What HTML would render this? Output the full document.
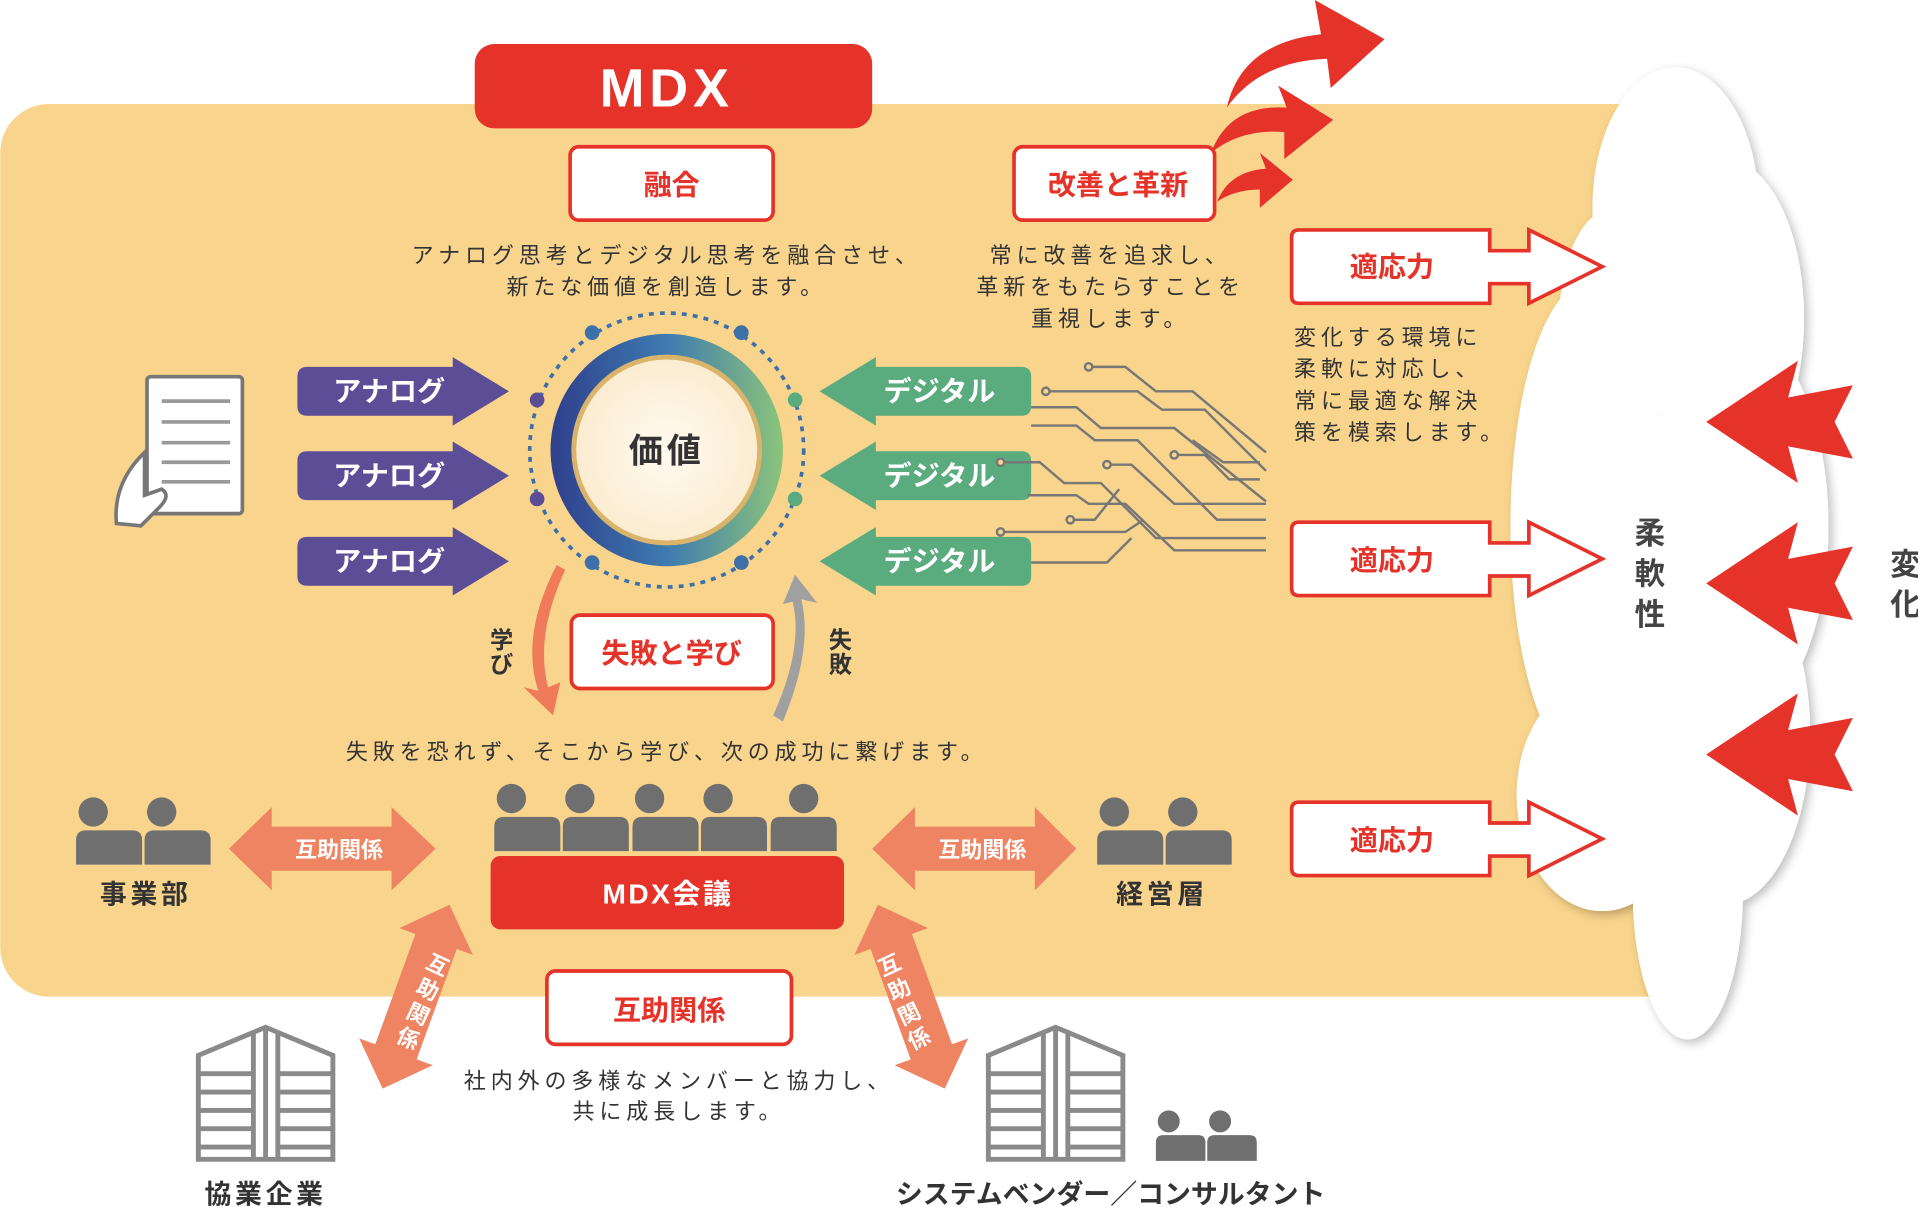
<!DOCTYPE html>
<html><head><meta charset="utf-8"><style>
html,body{margin:0;padding:0;background:#fff;}
svg{display:block;}
text{font-family:"Liberation Sans","Noto Sans CJK JP",sans-serif;}
</style></head><body>
<svg width="1918" height="1207" viewBox="0 0 1568 987" xmlns="http://www.w3.org/2000/svg">
<defs>
<linearGradient id="rg" x1="0" y1="0" x2="1" y2="0">
<stop offset="0" stop-color="#2f3f8c"/><stop offset="0.5" stop-color="#3d7bb0"/><stop offset="1" stop-color="#8cc47a"/>
</linearGradient>
<radialGradient id="cg"><stop offset="0" stop-color="#fffaf0"/><stop offset="1" stop-color="#fbecd0"/></radialGradient>
<filter id="sh" x="-20%" y="-20%" width="140%" height="140%"><feDropShadow dx="3" dy="3" stdDeviation="4" flood-color="#000" flood-opacity="0.25"/></filter>
<g id="p2"><circle cx="14" cy="12" r="12" fill="#6f6f6f"/><circle cx="70" cy="12" r="12" fill="#6f6f6f"/>
<path d="M0 55 V35 Q0 27 8 27 H46 Q54 27 54 35 V55Z" fill="#6f6f6f"/><path d="M56 55 V35 Q56 27 64 27 H102 Q110 27 110 35 V55Z" fill="#6f6f6f"/></g>
<g id="p1"><circle cx="27" cy="12" r="12" fill="#6f6f6f"/><path d="M0 55 V35 Q0 27 8 27 H46 Q54 27 54 35 V55Z" fill="#6f6f6f"/></g>
<g id="bld" fill="none" stroke="#8a8a8a" stroke-width="4">
<path d="M2 110 V25 L57 2 L112 25 V110 Z"/>
<path d="M57 2 V110 M47 6 V110 M67 6 V110"/>
<path d="M2 40 H47 M2 55 H47 M2 70 H47 M2 85 H47 M2 100 H47 M67 40 H112 M67 55 H112 M67 70 H112 M67 85 H112 M67 100 H112"/>
</g>
</defs>

<rect x="0" y="85" width="1400" height="730" rx="40" fill="#f9d48c"/>

<g fill="#fff" filter="url(#sh)">
<ellipse cx="1370" cy="170" rx="68" ry="115"/>
<ellipse cx="1410" cy="260" rx="65" ry="130"/>
<ellipse cx="1420" cy="430" rx="75" ry="160"/>
<ellipse cx="1410" cy="600" rx="70" ry="140"/>
<ellipse cx="1380" cy="730" rx="45" ry="120"/>
<ellipse cx="1310" cy="650" rx="70" ry="95"/>
<ellipse cx="1300" cy="430" rx="65" ry="200"/>
<ellipse cx="1320" cy="260" rx="45" ry="90"/>
</g>
<g fill="#fff">
<ellipse cx="1370" cy="170" rx="68" ry="115"/>
<ellipse cx="1410" cy="260" rx="65" ry="130"/>
<ellipse cx="1420" cy="430" rx="75" ry="160"/>
<ellipse cx="1410" cy="600" rx="70" ry="140"/>
<ellipse cx="1380" cy="730" rx="45" ry="120"/>
<ellipse cx="1310" cy="650" rx="70" ry="95"/>
<ellipse cx="1300" cy="430" rx="65" ry="200"/>
<ellipse cx="1320" cy="260" rx="45" ry="90"/>
</g>
<g font-size="25" font-weight="bold" fill="#444" text-anchor="middle">
<text x="1349" y="445">柔</text><text x="1349" y="478">軟</text><text x="1349" y="511">性</text>
<text x="1558" y="470">変</text><text x="1558" y="503">化</text>
</g>

<g fill="#e6332a">
<path d="M1395 345 L1470 295 L1462 325 L1515 315 L1500 345 L1515 375 L1462 365 L1470 395 Z"/>
<path d="M1395 477 L1470 427 L1462 457 L1515 447 L1500 477 L1515 507 L1462 497 L1470 527 Z"/>
<path d="M1395 617 L1470 567 L1462 597 L1515 587 L1500 617 L1515 647 L1462 637 L1470 667 Z"/>
</g>

<g fill="#e6332a">
<path d="M1003 88 Q1015 35 1080 28 L1075 0 L1132 32 L1088 72 L1085 48 Q1030 50 1003 88Z"/>
<path d="M990 125 Q1005 85 1052 88 L1045 70 L1090 98 L1050 130 L1050 108 Q1015 105 990 125Z"/>
<path d="M995 165 Q1005 140 1035 138 L1030 125 L1057 147 L1030 170 L1030 155 Q1010 155 995 165Z"/>
</g>

<rect x="388" y="36" width="325" height="69" rx="16" fill="#e6332a"/>
<text x="545" y="87" font-size="44" font-weight="bold" fill="#fff" text-anchor="middle" letter-spacing="4">MDX</text>

<g fill="#fff" stroke="#e6332a" stroke-width="3">
<rect x="466" y="120" width="166" height="60" rx="7"/>
<rect x="829" y="120" width="164" height="60" rx="7"/>
<rect x="467" y="503" width="165" height="60" rx="7"/>
<rect x="447" y="794" width="200" height="60" rx="7"/>
<path d="M1062 188 H1218 V205 H1250 V188 L1310 218 L1250 248 V232 H1218 V248 H1062 Q1056 248 1056 242 V194 Q1056 188 1062 188Z"/>
<path d="M1062 427 H1218 V444 H1250 V427 L1310 457 L1250 487 V471 H1218 V487 H1062 Q1056 487 1056 481 V433 Q1056 427 1062 427Z"/>
<path d="M1062 656 H1218 V673 H1250 V656 L1310 686 L1250 716 V700 H1218 V716 H1062 Q1056 716 1056 710 V662 Q1056 656 1062 656Z"/>
</g>
<g font-size="23" font-weight="bold" fill="#e6332a" text-anchor="middle">
<text x="549" y="159">融合</text>
<text x="914" y="159">改善と革新</text>
<text x="549" y="542">失敗と学び</text>
<text x="547" y="834">互助関係</text>
<text x="1138" y="226">適応力</text>
<text x="1138" y="466">適応力</text>
<text x="1138" y="695">適応力</text>
</g>

<g font-size="18" fill="#333" letter-spacing="4">
<text x="545" y="215" text-anchor="middle">アナログ思考とデジタル思考を融合させ、</text>
<text x="545" y="241" text-anchor="middle">新たな価値を創造します。</text>
<text x="908" y="215" text-anchor="middle">常に改善を追求し、</text>
<text x="908" y="241" text-anchor="middle">革新をもたらすことを</text>
<text x="908" y="267" text-anchor="middle">重視します。</text>
<text x="1058" y="282">変化する環境に</text>
<text x="1058" y="308">柔軟に対応し、</text>
<text x="1058" y="334">常に最適な解決</text>
<text x="1058" y="360">策を模索します。</text>
<text x="545" y="621" text-anchor="middle">失敗を恐れず、そこから学び、次の成功に繋げます。</text>
<text x="555" y="890" text-anchor="middle">社内外の多様なメンバーと協力し、</text>
<text x="555" y="915" text-anchor="middle">共に成長します。</text>
</g>

<circle cx="545" cy="368" r="112" fill="none" stroke="#3d6fa8" stroke-width="3" stroke-dasharray="4 5"/>
<g fill="#3d6fa8"><circle cx="484" cy="272" r="6"/><circle cx="606" cy="272" r="6"/><circle cx="484" cy="460" r="6"/><circle cx="606" cy="460" r="6"/></g>
<g fill="#5b4d96"><circle cx="439" cy="327" r="6"/><circle cx="439" cy="408" r="6"/></g>
<g fill="#5aab7e"><circle cx="650" cy="327" r="6"/><circle cx="650" cy="408" r="6"/></g>
<circle cx="545" cy="368" r="95" fill="url(#rg)"/>
<circle cx="545" cy="368" r="76" fill="url(#cg)" stroke="#d9b46a" stroke-width="4"/>
<text x="545" y="378" font-size="28" font-weight="bold" fill="#333" text-anchor="middle" letter-spacing="3">価値</text>

<g fill="#5b4d96">
<path d="M251 300 H370 V292 L416 320 L370 348 V340 H251 Q243 340 243 332 V308 Q243 300 251 300Z"/>
<path d="M251 369 H370 V361 L416 389 L370 417 V409 H251 Q243 409 243 401 V377 Q243 369 251 369Z"/>
<path d="M251 439 H370 V431 L416 459 L370 487 V479 H251 Q243 479 243 471 V447 Q243 439 251 439Z"/>
</g>
<g fill="#5aab7e">
<path d="M835 300 H716 V292 L670 320 L716 348 V340 H835 Q843 340 843 332 V308 Q843 300 835 300Z"/>
<path d="M835 369 H716 V361 L670 389 L716 417 V409 H835 Q843 409 843 401 V377 Q843 369 835 369Z"/>
<path d="M835 439 H716 V431 L670 459 L716 487 V479 H835 Q843 479 843 471 V447 Q843 439 835 439Z"/>
</g>
<g font-size="23" font-weight="bold" fill="#fff" text-anchor="middle">
<text x="318" y="328">アナログ</text><text x="318" y="397">アナログ</text><text x="318" y="467">アナログ</text>
<text x="768" y="328">デジタル</text><text x="768" y="397">デジタル</text><text x="768" y="467">デジタル</text>
</g>

<g fill="none" stroke="#777" stroke-width="2">
<path d="M890 300 H920 L945 320 H975 L1035 370"/>
<path d="M855 320 H930 L950 335 H985 L1035 385"/>
<path d="M843 333 H880 L900 350 H960 L1035 410 H1035"/>
<path d="M843 348 H880 L895 360 H930 L995 425 H1035"/>
<path d="M818 378 H850 L870 395 H900 L945 440 H1035"/>
<path d="M905 380 H925 L960 412 H1035"/>
<path d="M960 372 H985 L1005 392 H1030"/>
<path d="M840 405 H880 L890 412 H920 L960 450 H1035"/>
<path d="M818 435 H920 L935 425"/>
<path d="M843 460 H905 L925 440"/>
<path d="M875 425 H895 L915 400"/>
<path d="M975 360 L1000 378 H1030"/>
</g>
<g fill="#f9d48c" stroke="#777" stroke-width="2">
<circle cx="890" cy="300" r="3"/><circle cx="855" cy="320" r="3"/><circle cx="818" cy="378" r="3"/><circle cx="905" cy="380" r="3"/><circle cx="960" cy="372" r="3"/><circle cx="818" cy="435" r="3"/><circle cx="875" cy="425" r="3"/>
</g>

<rect x="120" y="308" width="78" height="112" rx="3" fill="#fff" stroke="#777" stroke-width="3"/>
<g stroke="#999" stroke-width="3"><path d="M132 328 H188 M132 345 H188 M132 362 H188 M132 378 H188 M132 394 H188"/></g>
<path d="M95 428 Q92 395 118 370 V405 L132 400 Q140 405 130 415 L115 430 Z" fill="#fff" stroke="#777" stroke-width="3"/>

<path d="M455 462 Q425 520 440 565 L428 562 L452 585 L458 558 L448 562 Q437 520 462 466Z" fill="#ef7b5a"/>
<path d="M640 590 Q665 530 655 490 L668 493 L650 470 L640 494 L648 492 Q657 530 632 585Z" fill="#a0a0a0"/>
<g font-size="19" font-weight="bold" fill="#333" text-anchor="middle">
<text x="410" y="530">学</text><text x="410" y="550">び</text>
<text x="687" y="530">失</text><text x="687" y="550">敗</text>
</g>

<use href="#p2" x="62" y="652"/>
<use href="#p2" x="897" y="652"/>
<use href="#p2" x="404" y="641"/>
<use href="#p2" x="517" y="641"/>
<use href="#p1" x="630" y="641"/>
<use href="#p2" x="945" y="908" transform="translate(945 908) scale(0.75) translate(-945 -908)"/>
<rect x="401" y="700" width="289" height="60" rx="8" fill="#e6332a"/>
<text x="546" y="739" font-size="23" font-weight="bold" fill="#fff" text-anchor="middle" letter-spacing="2">MDX会議</text>
<g font-size="22" font-weight="bold" fill="#333" text-anchor="middle" letter-spacing="3">
<text x="119" y="739">事業部</text><text x="950" y="739">経営層</text>
<text x="217" y="984">協業企業</text>
<text x="908" y="984" letter-spacing="0">システムベンダー／コンサルタント</text>
</g>

<g fill="#ef8462">
<path d="M187 694 L222 660 V676 H320 V660 L356 694 L320 728 V712 H222 V728Z"/>
<path d="M713 694 L748 660 V676 H846 V660 L880 694 L846 728 V712 H748 V728Z"/>
<g transform="translate(340 815) rotate(-70)"><path d="M-80 0 L-48 -32 V-18 H48 V-32 L80 0 L48 32 V18 H-48 V32Z"/></g>
<g transform="translate(745 815) rotate(70)"><path d="M-80 0 L-48 -32 V-18 H48 V-32 L80 0 L48 32 V18 H-48 V32Z"/></g>
</g>
<g font-size="18" font-weight="bold" fill="#fff" text-anchor="middle">
<text x="277" y="701">互助関係</text><text x="803" y="701">互助関係</text>
</g>
<g font-size="18" font-weight="bold" fill="#fff" text-anchor="middle">
<text transform="translate(355 795) rotate(25)">互</text>
<text transform="translate(347 815) rotate(25)">助</text>
<text transform="translate(339 835) rotate(25)">関</text>
<text transform="translate(331 855) rotate(25)">係</text>
<text transform="translate(730 795) rotate(-25)">互</text>
<text transform="translate(738 815) rotate(-25)">助</text>
<text transform="translate(746 835) rotate(-25)">関</text>
<text transform="translate(754 855) rotate(-25)">係</text>
</g>

<use href="#bld" x="160" y="838"/>
<use href="#bld" x="806" y="838"/>
</svg>
</body></html>
